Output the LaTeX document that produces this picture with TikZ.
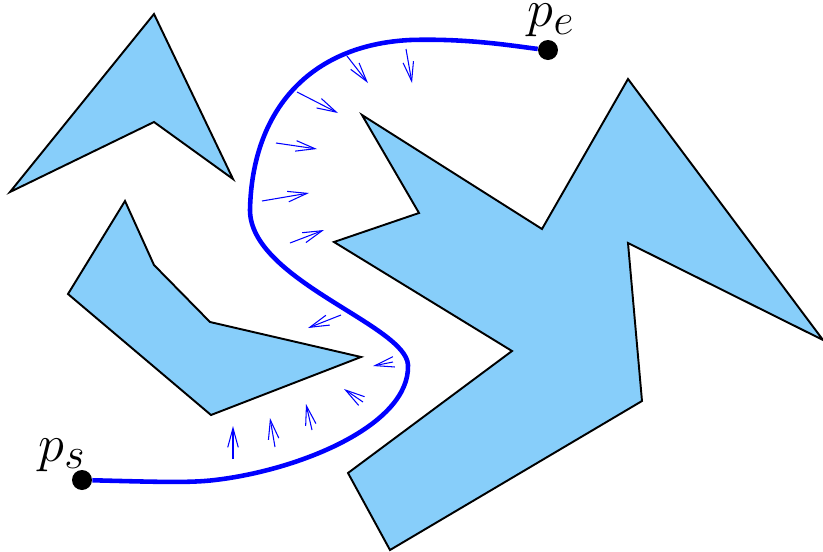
\documentclass[tikz,border=0pt]{standalone}
\usetikzlibrary{positioning, arrows.meta}
\definecolor{obstfill}{RGB}{135,206,250}

\begin{document}
\begin{tikzpicture}[
    x=0.02cm, y=-0.02cm,
    obst/.style={draw=black, line width=1.1pt, fill=obstfill, line join=miter},
    route/.style={draw=blue, line width=2.6pt},
    field/.style={-{Straight Barb[length=11pt, width=6pt]}, blue, line width=0.6pt},
    dot/.style={circle, fill=black, inner sep=0pt, minimum size=0.4cm},
    lab/.style={font=\Huge, scale=1.2, transform shape, inner sep=0.5pt},
  ]
    \useasboundingbox (0,0) rectangle (823,552);
    % obstacles
    \draw[obst] (154,14) -- (233,179) -- (154,122) -- (10,192) -- cycle;
    \draw[obst] (125,201) -- (154,265) -- (210,322) -- (361,357) -- (211,415) -- (68,294) -- cycle;
    \draw[obst] (362,115) -- (542,229) -- (628,79) -- (823,340) -- (628,243) -- (642,401)
      -- (390,550) -- (348,473) -- (512,351) -- (334,242) -- (419,213) -- cycle;
    % start and goal
    \node[dot] (ps) at (82,480) {};
    \node[dot] (pe) at (548,50) {};
    \node[lab, above left=0pt and -7pt of ps] (pslab) {$p_s$};
    \node[lab, above=1pt of pe, xshift=1.5pt] (pelab) {$p_e$};
    % path
    \draw[route] (ps) .. controls (160,482) and (190,483) .. (215,480)
      .. controls (300,470) and (410,425) .. (408,365)
      .. controls (406,325) and (250,280) .. (250,210)
      .. controls (252,110) and (310,45) .. (410,40)
      .. controls (470,38) and (520,47) .. (pe);
    % field arrows
    \draw[field] (347,56) -- (368,83);
    \draw[field] (406,49) -- (412,83);
    \draw[field] (297,92) -- (338,113);
    \draw[field] (276,143) -- (317,149);
    \draw[field] (262,201) -- (309,193);
    \draw[field] (290,243) -- (324,230);
    \draw[field] (341,315) -- (308,328);
    \draw[field] (393,362) -- (373,366);
    \draw[field] (363,402) -- (344,389);
    \draw[field] (312,430) -- (306,404);
    \draw[field] (275,447) -- (270,418);
    \draw[field] (233,459) -- (233,426);
\end{tikzpicture}
\end{document}
